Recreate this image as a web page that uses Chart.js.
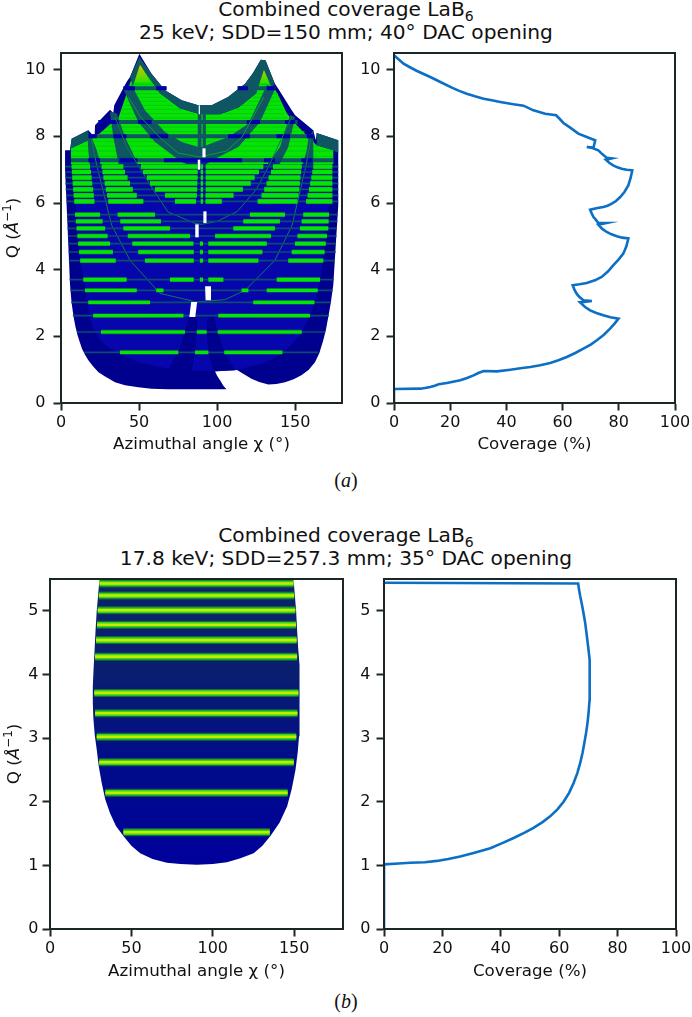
<!DOCTYPE html>
<html>
<head>
<meta charset="utf-8">
<script src="https://cdn.jsdelivr.net/npm/chart.js@4/dist/chart.umd.js"></script>
<style>
  html, body { margin: 0; padding: 0; background: #fff; }
  body { position: relative; width: 692px; height: 1017px; overflow: hidden; font-family: "DejaVu Sans", sans-serif; color: #111; }
  canvas { position: absolute; }
  .head { position: absolute; left: 0; width: 692px; text-align: center; font-size: 20.2px; line-height: 23px; white-space: nowrap; }
  .head sub { font-size: 14px; line-height: 0; }
  .tag { position: absolute; left: 0; width: 692px; text-align: center; font-family: "Liberation Serif", serif; font-size: 20px; color: #111; }
  .ytitle { position: absolute; width: 100px; text-align: center; font-size: 16.7px; line-height: 20px; white-space: nowrap; transform: rotate(-90deg); }
  .ytitle sup { font-size: 12px; line-height: 0; }
</style>
</head>
<body>
<div class="head" style="top:-2px">Combined coverage LaB<sub>6</sub><br>25 keV; SDD=150 mm; 40° DAC opening</div>
<div class="tag" style="top:469px">(<i>a</i>)</div>
<div class="head" style="top:524px">Combined coverage LaB<sub>6</sub><br>17.8 keV; SDD=257.3 mm; 35° DAC opening</div>
<div class="tag" style="top:990px">(<i>b</i>)</div>

<canvas id="mapA" width="350" height="430" style="left:0;top:40px"></canvas>
<canvas id="lineA" width="342" height="430" style="left:350px;top:40px"></canvas>
<canvas id="mapB" width="350" height="430" style="left:0;top:565px"></canvas>
<canvas id="lineB" width="342" height="430" style="left:350px;top:565px"></canvas>
<div class="ytitle" style="left:-38px;top:218px">Q (<i>Å</i><sup>−1</sup>)</div>
<div class="ytitle" style="left:-37px;top:744px">Q (<i>Å</i><sup>−1</sup>)</div>

<script>
// --- coverage curves, [coverage %, Q] ---
const coverageA = [[0,0],[0,.42],[9.4,.43],[11,.45],[12.9,.48],[14.5,.52],[15.9,.56],[18.8,.6],[23.6,.68],[26,.75],[28.3,.83],[30,.9],[31.9,.96],[36.6,.95],[41.4,1],[45,1.04],[48.5,1.08],
  [52,1.13],[55.6,1.2],[58.5,1.28],[61.5,1.38],[64.5,1.5],[67.4,1.63],[70,1.75],[72.2,1.88],[74.7,2.05],[76.9,2.23],[78.5,2.38],[79.9,2.53],[77,2.57],[74.5,2.63],[72,2.7],[69.8,2.78],
  [68,2.88],[66.2,3.02],[70.4,3.06],[67.4,3.08],[66,3.18],[65,3.28],[64.2,3.4],[63.6,3.53],[66,3.56],[68.6,3.6],[71.5,3.68],[73.9,3.78],[76.2,3.95],[78,4.13],[79.9,4.3],[81.6,4.48],
  [82.7,4.7],[83.4,4.94],[81.2,4.96],[79.3,5],[77.4,5.06],[75.7,5.13],[74,5.23],[72.7,5.35],[75.5,5.4],[72.7,5.4],[71.8,5.5],[71,5.58],[70.4,5.68],[69.8,5.8],[72,5.84],[74.5,5.88],
  [76,5.92],[77.5,5.98],[79,6.06],[80.5,6.18],[82,6.33],[83.4,6.53],[84.2,6.75],[84.8,6.98],[82.8,7],[81,7.03],[79.5,7.07],[78,7.13],[76.7,7.2],[75.4,7.3],[77.5,7.34],[75.7,7.36],
  [74.2,7.46],[72.7,7.58],[70.6,7.65],[68.6,7.68],[71,7.66],[71.6,7.88],[68.6,7.98],[65.6,8.08],[62.7,8.26],[60.3,8.4],[59,8.52],[57.7,8.63],[53.8,8.68],[49.6,8.78],[46.1,8.92],[42.5,8.96],
  [37.8,9.03],[34.8,9.08],[31.9,9.13],[28.8,9.2],[25.9,9.28],[23,9.37],[20.6,9.46],[16.5,9.63],[12.9,9.78],[8.2,9.96],[5.5,10.08],[3.4,10.18],[1.5,10.32],[0,10.43]];
const coverageB = [[0,0],[0,1.015],[5,1.03],[9,1.04],[14,1.05],[18.1,1.07],[22,1.1],[26.1,1.14],[31,1.2],[36.4,1.27],[40.5,1.35],[44.4,1.43],[48,1.51],[51.2,1.59],[54.3,1.68],[56.9,1.77],
  [59.4,1.88],[61.5,2],[63.4,2.14],[64.9,2.29],[66.2,2.45],[67.2,2.61],[68,2.77],[68.6,2.92],[69.2,3.08],[69.7,3.24],[70.1,3.42],[70.4,3.6],[70.5,3.8],[70.5,4.02],[70.3,4.23],[69.9,4.44],
  [69.4,4.63],[68.9,4.81],[68.3,4.97],[67.7,5.12],[67.2,5.23],[66.8,5.33],[66.5,5.43],[0,5.44]];

// --- panel (a) regions, [chi, Q] ---
const outlineA = [[5.8,3.53],[6.8,3],[8,2.6],[9.2,2.3],[10.5,2.05],[12,1.83],[13.5,1.62],[15.5,1.44],[17.5,1.28],[20.5,1.1],[24,.92],[28,.8],[34.6,.62],[41,.53],[49.5,.47],[58,.43],[68.6,.41],
  [106,.41],[104,.52],[101.9,.68],[100,.82],[98.7,.945],[112.5,1],[117,.87],[122,.73],[127,.63],[132.8,.555],[138,.57],[143.5,.62],[149,.71],[154,.83],[158.7,1],[162.7,1.22],[165.5,1.5],
  [168,1.88],[169.7,2.2],[171,2.53],[172.8,3],[174.4,3.53],[177.6,5.93],[177.6,7.88],[163.8,8.1],[163.2,7.88],[161.6,8.18],[150,8.63],[147.8,8.78],[139.2,9.43],[137,9.58],[131,10.28],
  [128,10.3],[123,9.9],[117.9,9.58],[107,9.18],[96.5,8.93],[87.9,8.93],[77.3,9.08],[66.6,9.38],[58,9.88],[50.2,10.48],[44.2,9.78],[42,9.63],[34.1,8.93],[33.5,8.7],[31.4,8.8],[21.8,8.33],
  [21.5,7.98],[17.5,8.18],[6.8,7.93],[5.8,7.58],[2.6,7.58],[2.6,7],[3.6,5.93]];
const innerA = [[6.4,7.2],[9.4,5.93],[12,4.28],[15.4,3.53],[16.8,3],[18.6,2.53],[21.5,2.15],[26,1.83],[31,1.65],[38.9,1.43],[48,1.25],[58,1.13],[68.6,1.03],[83.7,.97],[98,.97],[111.5,.98],
  [128.6,1.18],[136,1.33],[142.4,1.53],[148.8,1.8],[154.2,2.13],[157.3,2.4],[159.5,2.63],[162.5,3],[164.8,3.38],[168,4.23],[171,5.69],[174.4,7.2]];
const wedgeLeft = [[68.6,1.0],[75.1,1.52],[79.4,2.13],[82,2.6],[87.6,2.6],[87,2.13],[85.8,1.52],[83.7,.97]];
const wedgeRight = [[94,2.6],[93.3,2.13],[94.4,1.52],[97.6,.97],[111.5,.98],[104.6,1.52],[100.4,2.13],[98,2.6]];
const greenA = [[6.4,7.17],[6.4,7.64],[17.5,7.88],[25,8.09],[31.4,8.36],[36.7,8.54],[42,9.28],[44.5,9.63],[50.6,10.18],[51.7,10.08],[63.4,9.29],[76.2,8.84],
  [89,8.66],[102,8.66],[114,8.87],[125,9.29],[129.6,10.13],[135,9.58],[139.2,9.23],[144.6,8.69],[151,8.33],[158.4,7.98],[163.8,7.73],[174.4,7.58],[174.4,7.17]];
const rimTop = [[44.2,9.78],[50.2,10.38],[58,9.88],[66.6,9.38],[77.3,9.08],[87.9,8.93],[96.5,8.93],[107,9.18],[117.9,9.58],[123,9.9],[128,10.3],[131,10.28],[137,9.58],
  [135,9.45],[130,10],[125,9.29],[114,8.87],[102,8.66],[89,8.66],[76.2,8.84],[63.4,9.29],[51.7,10.08],[50.6,10.15],[46,9.5]];
const rimLeft = [[5.8,7.58],[6.8,7.93],[17.5,8.18],[17.5,7.88],[6.4,7.64]];
const rimRight = [[163.8,8.1],[177.6,7.88],[177.6,7.5],[174.4,7.58],[163.8,7.73]];
const arcInner = [[45.3,9.53],[53.8,8.78],[66.6,8.13],[77.3,7.83],[88,7.68],[90.1,7.68],[107.2,7.98],[120,8.38],[131.8,9.53],
  [137.7,9.48],[127.5,8.43],[113.6,7.68],[98.7,7.33],[90,7.08],[89,7],[77.3,7.23],[60.2,7.83],[49.5,8.43],[39.9,9.43]];
const arcMidLeft = [[31.4,8.73],[35.7,8.69],[41,7.98],[50.6,7.04],[39.9,7.04],[36.8,7.19],[33.5,7.98]];
const arcMidRight = [[146.7,8.63],[150,8.58],[145.6,7.68],[138,6.98],[129.6,6.98],[140.3,7.68]];
const arcOuterLeft = [[16.8,8.15],[19.7,7.95],[22.9,7.58],[26,7.04],[18.6,7.04],[17.5,7.58]];
const arcOuterRight = [[161.6,8.18],[158.5,7.95],[157.4,7.58],[154.2,7.04],[161.6,7.04]];
const spokeLeft = [[87.6,8.9],[90,8.9],[90,7.1],[87.6,7.1]];
const spokeRight = [[90.7,8.66],[92.8,8.66],[92.8,7.1],[90.7,7.1]];
const thinInner = [[43.1,9.18],[51,8.58],[63,7.98],[75,7.5],[89,7.38],[106,7.56],[116,7.98],[130,9.18]];
const thinMid = [[34.6,8.58],[42,7.68],[49.5,7.13],[60,6.33],[68.6,5.73],[85.8,5.39],[90,5.36],[100,5.45],[113,5.75],[125,6.4],[133,7.1],[141,7.9],[148,8.6]];
const thinOuter = [[19.5,7.9],[22.9,7.13],[32.5,5.33],[44.2,4.28],[63.4,3.29],[86.7,3.03],[105,3.1],[118,3.38],[137,4.28],[148,5.33],[157,7.13],[160,7.9]];
const tipYellowLeft = [[44.5,9.63],[50.6,10.18],[51.7,10.08],[57,9.63]];
const tipYellowRight = [[120,9.63],[129.6,10.13],[135,9.58]];
const slots = [
  [[88.2,8.66],[89,8.66],[89,8.93],[88.2,8.93]],
  [[90.6,7.37],[92.6,7.37],[92.6,7.64],[90.6,7.64]],
  [[87.6,7],[89.2,7],[89.2,7.3],[87.6,7.3]],
  [[91.2,5.4],[93.2,5.4],[93.2,5.75],[91.2,5.75]],
  [[86,4.97],[88.2,4.97],[88.2,5.36],[86,5.36]],
  [[92.6,3.08],[96.4,3.08],[96.1,3.5],[92.3,3.5]],
  [[82.2,2.58],[86,2.58],[87.2,3.03],[83.4,3.03]]
];

// --- panel (a) peaks ---
const peakQ = [7.09,6.93,6.76,6.59,6.41,6.23,6.05,5.65,5.45,5.24,5.01,4.78,4.53,4.27,3.7,3.38,3.02,2.62,2.13,1.52];
const peakSpanA = [[2.6,177.6],[2.6,177.6],[2.8,177.6],[2.9,177.6],[3,177.6],[3.2,177.6],[3.5,177.6],[3.8,177.3],[4,177],[4.2,176.8],[4.4,176.5],[4.6,176.2],
  [4.8,176],[5,175.5],[5.5,174.8],[6,174],[6.6,173],[7.6,171.6],[10.3,169.3],[15,164.7]];
const peakSegs = [
  [6.8,18.6,26,39.9,51.2,87.5,89.5,91,92.7,129.6,135.8,154.2,161.6,173.8],
  [7,19.2,26.6,41,52.5,87.5,89.5,91,92.7,126.8,134.5,153.8,161,173.8],
  [7.2,19.6,27.2,42.6,55,87.5,89.5,91,92.7,124,133,153.4,160.4,173.8],
  [7.5,20,28,44.2,57,87.3,89.5,91,92.7,121.5,131.7,153,159.6,173.8],
  [7.8,20.6,28.7,46,60.2,87.2,89.5,91,92.7,116.5,130.2,152.6,158.8,173.8],
  [8.1,21,29.5,48.5,66.6,87,89.5,91,92.6,110.5,128.5,152.2,158,173.8],
  [8.5,21.4,30.3,52.7,73,86.5,89.5,91,92.6,103,126,151.5,157,173.8],
  [9,25,36.3,60.2,121,143.5,155.2,171.7],
  [9.5,26.6,38,64,116.8,140.2,154.2,171.4],
  [10,28.2,40,69.8,110.4,137,153.1,171.2],
  [10.5,29.8,42.8,82.6,98.7,134.5,151.5,170.4],
  [11,31.4,45.7,84.8,89,91,94.4,131.8,149.9,169.6],
  [11.6,33.2,49.5,85,89,91,94.4,129,147.8,168.8],
  [12.3,35,53.8,85,89,91,94.4,126.4,145.6,168],
  [14.3,42,69.8,85,89,91,94.4,104,138.2,165.9],
  [15.4,48.5,61,65.6,115.7,120,131.8,164.4],
  [17.5,57,123.2,162.3],
  [20.6,78.4,100.8,159.5],
  [25.6,79.4,87,93.3,100.4,154.2],
  [37.8,75.1,85.8,94.4,104.6,141.8]
];
const gapQ = [9.44,8.43,8,7.28];
const gapSpan = [[44,67,113,137],[24,151.5],[17.5,161],[6.4,174.4]];
const gapCross = [
  [39.9,47.4,61,67.7,113.4,119.8,131.8,137],
  [24,37,49.3,58,119,127.5,143.5,150],
  [17.5,22.9,33.5,42,57,68.7,107,121,138,146.7,157.4,161.6],
  [17.5,25,37.5,49,66,116,130,137,154,161]
];
const faintQ = [7.4,7.56,7.71,7.85,8.14,8.28,8.55,8.68,8.81,8.93,9.05,9.17,9.28,9.56];
const faintSpan = [[6.4,174.4],[6.4,174.4],[12,165],[17,162],[26,156],[30,152],[37,145],[38.5,85,105,143],[39,78,112,142],[41,72,116,141],[41.5,68,120,140.5],[42,65,123,140],[42.2,63,125,139],[45,59,119,135.5]];

// --- panel (b) ---
const outlineB = [[30.2,5.44],[29.4,5.2],[28.7,5],[27.9,4.65],[27.3,4.34],[26.7,4.05],[26.3,3.81],[26.3,3.55],[26.7,3.29],[27.5,3.05],[28.7,2.82],[30,2.55],[31.8,2.29],[34,2.03],[36.9,1.82],[40.5,1.62],
  [45.1,1.46],[50,1.31],[55.4,1.19],[63,1.1],[71.8,1.04],[80,1.02],[90.3,1.01],[100,1.02],[108.7,1.05],[117,1.11],[125.1,1.19],[130.5,1.31],[135.4,1.46],[141,1.67],[145.7,1.93],[148.5,2.2],
  [150.8,2.5],[152.2,2.78],[153,3.03],[153.5,3.4],[153.4,3.81],[153,4.15],[152.4,4.44],[151.8,4.7],[151.2,5],[150.4,5.25],[149.8,5.44]];
const bandQ = [1.52,2.14,2.62,3.02,3.39,3.71,4.28,4.54,4.78,5.01,5.24,5.43];
const bandSpan = [[45.1,135],[34,146],[30.2,149.8],[28.7,151.3],[27.7,152],[27.2,152.6],[27.7,151.8],[28.3,151.5],[28.9,151.1],[29.3,150.7],[30,150],[30.4,149.6]];

// --- ve ---
const INK = '#1b2626';
const TICK_FONT = { family: '"DejaVu Sans", sans-serif', size: 16 };
const TITLE_FONT = { family: '"DejaVu Sans", sans-serif', size: 16.7 };

function xy(pairs) { return pairs.map(p => ({ x: p[0], y: p[1] })); }

function poly(pairs, color) {
  return { data: xy(pairs), backgroundColor: color, fill: 'shape', borderWidth: 0, pointRadius: 0 };
}

function stroke(points, color, width) {
  return { data: points, borderColor: color, borderWidth: width, fill: false, pointRadius: 0, borderCapStyle: 'butt' };
}

// dai doc theo Q, co khoang trong giua cac doan
function rows(qs, spans) {
  const out = [];
  qs.forEach((q, i) => {
    const s = spans[i];
    for (let k = 0; k < s.length; k += 2) {
      out.push({ x: s[k], y: q }, { x: s[k + 1], y: q }, { x: s[k + 1], y: NaN });
    }
  });
  return out;
}

function vGrad(stops, fallback) {
  return (ctx) => {
    const chart = ctx.chart;
    if (!chart.chartArea) return fallback;
    const y = chart.scales.y;
    const top = y.getPixelForValue(stops[0][0]);
    const bot = y.getPixelForValue(stops[stops.length - 1][0]);
    const g = chart.ctx.createLinearGradient(0, top, 0, bot);
    stops.forEach(s => g.addColorStop((y.getPixelForValue(s[0]) - top) / (bot - top), s[1]));
    return g;
  };
}

const frame = {
  id: 'frame',
  afterDraw(chart) {
    const a = chart.chartArea, c = chart.ctx;
    c.save();
    c.strokeStyle = INK;
    c.lineWidth = 2;
    c.strokeRect(a.left, a.top, a.right - a.left, a.bottom - a.top);
    c.restore();
  }
};

function axis(min, max, step, size, labelPad, title, titlePad) {
  return {
    type: 'linear', min, max,
    afterFit(s) {
      if (s.isHorizontal()) s.height = size; else s.width = size;
      // nhan tick khong duoc day khung ve vao trong
      s.paddingTop = s.paddingBottom = s.paddingLeft = s.paddingRight = 0;
    },
    grid: { drawOnChartArea: false, drawTicks: true, tickLength: 7.5, tickWidth: 2, tickColor: INK },
    border: { color: INK, width: 2 },
    ticks: { stepSize: step, includeBounds: false, color: '#111', font: TICK_FONT, padding: labelPad, maxRotation: 0, autoSkip: false },
    title: title ? { display: true, text: title, color: '#111', font: TITLE_FONT, padding: titlePad } : { display: false }
  };
}

function draw(id, layers, x, y, pad) {
  return new Chart(document.getElementById(id), {
    type: 'line',
    data: { datasets: layers.slice().reverse() },
    options: {
      responsive: false, animation: false, events: [],
      layout: { padding: pad, autoPadding: false },
      spanGaps: false,
      scales: { x, y },
      plugins: { legend: { display: false }, tooltip: { enabled: false } }
    },
    plugins: [frame]
  });
}

const NAVY = '#00008e', BLUE = '#0606ac', TEAL = '#0e5662', LIME = '#06e406', CROSS = '#0000a6';
const arcFill = vGrad([[10, TEAL], [7.4, TEAL], [7, CROSS]], TEAL);

const peakHigh = rows(peakQ.slice(0, 7), peakSegs.slice(0, 7));
const peakMid = rows(peakQ.slice(7, 15), peakSegs.slice(7, 15));
const peakLow = rows(peakQ.slice(15), peakSegs.slice(15));

const layersA = [
  poly(outlineA, NAVY),
  poly(innerA, BLUE),
  poly(wedgeLeft, NAVY),
  poly(wedgeRight, NAVY),
  poly(greenA, LIME),
  poly(tipYellowLeft, vGrad([[10.2, '#e8c400'], [9.6, '#30e000']], LIME)),
  poly(tipYellowRight, vGrad([[10.2, '#e8c400'], [9.6, '#30e000']], LIME)),
  stroke(rows(faintQ, faintSpan), '#04c80a', 1),
  stroke(rows(gapQ, gapSpan), TEAL, 4),
  poly(rimLeft, TEAL),
  poly(rimRight, TEAL),
  poly(rimTop, TEAL),
  poly(arcOuterLeft, arcFill),
  poly(arcOuterRight, arcFill),
  poly(arcMidLeft, arcFill),
  poly(arcMidRight, arcFill),
  poly(arcInner, arcFill),
  poly(spokeLeft, arcFill),
  poly(spokeRight, arcFill),
  stroke(rows(gapQ, gapCross), CROSS, 4),
  stroke(xy(thinOuter), '#107a50', 1),
  stroke(xy(thinMid), '#107a50', 1),
  stroke(xy(thinInner), '#129a30', 1),
  stroke(rows(peakQ, peakSpanA), '#0d4a70', 1.6),
  stroke(peakHigh, '#0a7040', 5.2),
  stroke(peakHigh, LIME, 4.2),
  stroke(peakMid, '#0a7040', 4.8),
  stroke(peakMid, LIME, 3.6),
  stroke(peakLow, '#0a7040', 4.4),
  stroke(peakLow, LIME, 3.2)
].concat(slots.map(s => poly(s, '#ffffff')));

const layersB = [
  poly(outlineB, vGrad([[5.5, '#0a2468'], [4, '#0a1e70'], [2.6, '#000c8a'], [1, '#00009c']], NAVY)),
  stroke(rows(bandQ, bandSpan), '#176a3e', 8),
  stroke(rows(bandQ, bandSpan), '#2fd61e', 5.6),
  stroke(rows(bandQ, bandSpan), '#c6ea00', 2.6)
];

const CURVE = '#0b6fc6';

window.addEventListener('DOMContentLoaded', () => {
  draw('mapA', layersA,
    axis(0, 180, 50, 67, 3, 'Azimuthal angle χ (°)', { top: 0, bottom: 15 }),
    axis(0, 10.5, 2, 61, 8),
    { top: 13, right: 8 });
  draw('lineA', [stroke(xy(coverageA), CURVE, 2.6)],
    axis(0, 100, 20, 67, 3, 'Coverage (%)', { top: 0, bottom: 15 }),
    axis(0, 10.5, 2, 44, 6),
    { top: 13, right: 17 });
  draw('mapB', layersB,
    axis(0, 180, 50, 66, 3, 'Azimuthal angle χ (°)', { top: 0, bottom: 13 }),
    axis(0, 5.5, 1, 50, 4),
    { top: 14, right: 7 });
  draw('lineB', [stroke(xy(coverageB), CURVE, 2.6)],
    axis(0, 100, 20, 66, 3, 'Coverage (%)', { top: 0, bottom: 13 }),
    axis(0, 5.5, 1, 34, 6),
    { top: 14, right: 16 });
});
</script>
</body>
</html>
